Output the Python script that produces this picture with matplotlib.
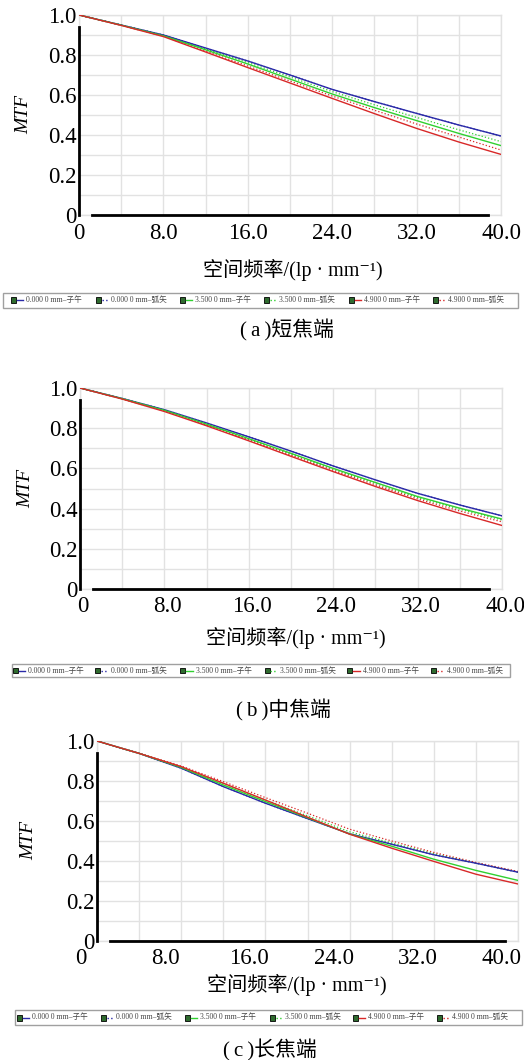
import matplotlib

matplotlib.use("Agg")
import matplotlib.pyplot as plt
from matplotlib.patches import Rectangle
from matplotlib.transforms import ScaledTranslation

W, H = 524, 1060
SERIF = ["Liberation Serif", "Noto Sans CJK SC", "DejaVu Serif"]
plt.rcParams["font.family"] = SERIF

freq = [0, 4, 8, 12, 16, 20, 24, 28, 32, 36, 40]
x_ticks = [0, 4, 8, 12, 16, 20, 24, 28, 32, 36, 40]
x_labels = ["0", "", "8.0", "", "16.0", "", "24.0", "", "32.0", "", "40.0"]
y_ticks = [0, 0.1, 0.2, 0.3, 0.4, 0.5, 0.6, 0.7, 0.8, 0.9, 1.0]
y_labels = ["0", "", "0.2", "", "0.4", "", "0.6", "", "0.8", "", "1.0"]
field_labels = ["0.000 0 mm–子午", "0.000 0 mm–弧矢", "3.500 0 mm–子午",
                "3.500 0 mm–弧矢", "4.900 0 mm–子午", "4.900 0 mm–弧矢"]
captions = ["(\u2009a\u2009)短焦端", "(\u2009b\u2009)中焦端", "(\u2009c\u2009)长焦端"]
xlabel = "空间频率/(lp · mm⁻¹)"

# (a) short focal end
short_0t = [1.0, 0.950, 0.900, 0.835, 0.770, 0.700, 0.628, 0.567, 0.508, 0.450, 0.395]
short_0s = [1.0, 0.950, 0.900, 0.835, 0.770, 0.700, 0.628, 0.567, 0.508, 0.450, 0.395]
short_35t = [1.0, 0.949, 0.896, 0.826, 0.755, 0.680, 0.605, 0.537, 0.472, 0.408, 0.347]
short_35s = [1.0, 0.950, 0.898, 0.830, 0.762, 0.690, 0.617, 0.551, 0.488, 0.426, 0.367]
short_49t = [1.0, 0.948, 0.892, 0.815, 0.737, 0.660, 0.583, 0.507, 0.433, 0.365, 0.303]
short_49s = [1.0, 0.948, 0.894, 0.820, 0.745, 0.670, 0.595, 0.524, 0.455, 0.390, 0.325]

# (b) middle focal
mid_0t = [1.0, 0.948, 0.892, 0.826, 0.757, 0.686, 0.612, 0.543, 0.476, 0.418, 0.364]
mid_0s = [1.0, 0.948, 0.892, 0.826, 0.757, 0.686, 0.612, 0.543, 0.476, 0.418, 0.364]
mid_35t = [1.0, 0.947, 0.889, 0.820, 0.748, 0.675, 0.600, 0.530, 0.460, 0.402, 0.348]
mid_35s = [1.0, 0.946, 0.887, 0.818, 0.745, 0.671, 0.596, 0.525, 0.455, 0.397, 0.343]
mid_49t = [1.0, 0.945, 0.883, 0.812, 0.737, 0.660, 0.584, 0.510, 0.440, 0.376, 0.316]
mid_49s = [1.0, 0.946, 0.885, 0.815, 0.741, 0.666, 0.590, 0.518, 0.448, 0.388, 0.334]

# (c) long focal end
long_0t = [1.0, 0.938, 0.864, 0.772, 0.689, 0.612, 0.536, 0.484, 0.431, 0.389, 0.344]
long_0s = [1.0, 0.938, 0.864, 0.772, 0.689, 0.612, 0.536, 0.484, 0.431, 0.389, 0.344]
long_35t = [1.0, 0.938, 0.868, 0.780, 0.697, 0.616, 0.535, 0.474, 0.409, 0.353, 0.303]
long_35s = [1.0, 0.938, 0.870, 0.787, 0.705, 0.626, 0.546, 0.490, 0.437, 0.390, 0.345]
long_49t = [1.0, 0.938, 0.872, 0.789, 0.705, 0.619, 0.534, 0.464, 0.398, 0.334, 0.285]
long_49s = [1.0, 0.939, 0.875, 0.797, 0.717, 0.639, 0.559, 0.500, 0.443, 0.393, 0.348]

COLORS = ["#2a2aa8", "#2a2aa8", "#30d030", "#30d030", "#d82828", "#d82828"]
STYLES = ["-", ":", "-", ":", "-", ":"]
GRID = "#e2e2e2"


def fig_rect(left, top, right, bottom):
    return [left / W, 1 - bottom / H, (right - left) / W, (bottom - top) / H]


def panel(fig, box, series, xpad, ylabel_x, label_shift=0):
    left, top, right, bottom = box
    ax = fig.add_axes(fig_rect(*box))
    # sagittal curves first so the tangential ones sit on top
    for i in (1, 3, 5, 0, 2, 4):
        ax.plot(freq, series[i], STYLES[i], color=COLORS[i],
                lw=1.0 if STYLES[i] == "-" else 0.9, zorder=3)
    ax.set_xlim(0, 40)
    ax.set_ylim(0, 1.0)
    ax.set_xticks(x_ticks)
    ax.set_xticklabels(x_labels, fontsize=16.5)
    ax.set_yticks(y_ticks)
    ax.set_yticklabels(y_labels, fontsize=16.5)
    ax.tick_params(length=0)
    ax.tick_params(axis="y", pad=1.5)
    ax.tick_params(axis="x", pad=xpad)
    ax.grid(color=GRID, lw=1.0, zorder=0)
    for s in ax.spines.values():
        s.set_color(GRID)
        s.set_linewidth(1.0)
    ax.plot([0, 0], [0, 0.94], color="black", lw=2.0, transform=ax.transAxes,
            clip_on=False, zorder=4)
    ax.plot([0.03, 0.97], [0, 0], color="black", lw=2.0, transform=ax.transAxes,
            clip_on=False, zorder=4)
    ax.set_ylabel("MTF", fontsize=14, style="italic")
    # label anchor is its right edge once rotated; the text is about 14 px thick
    ax.yaxis.set_label_coords((ylabel_x + 7 - left) / (right - left), 0.5)
    if label_shift:
        off = ScaledTranslation(label_shift / 100, 0, fig.dpi_scale_trans)
        for t in ax.get_xticklabels():
            t.set_transform(t.get_transform() + off)
    return ax


def legend_bar(fig, left, top, right, bottom, icon_x):
    lg = fig.add_axes(fig_rect(left, top, right, bottom))
    width = right - left
    lg.set_xlim(0, width)
    lg.set_ylim(0, 1)
    lg.axis("off")
    lg.add_patch(Rectangle((0, 0), width, 1, fill=False, edgecolor="#a0a0a0", lw=1.0,
                           clip_on=False))
    for i, ix in enumerate(icon_x):
        x0 = ix - left
        lg.add_patch(Rectangle((x0 - 2.5, 0.3), 5, 0.4, facecolor="#2f6b2f",
                               edgecolor="black", lw=0.6))
        lg.plot([x0 + 3.5, x0 + 10], [0.5, 0.5], STYLES[i], color=COLORS[i], lw=1.0)
        lg.text(x0 + 13, 0.5, field_labels[i], fontsize=5.5, va="center", ha="left",
                family=SERIF, color="#444444")


fig = plt.figure(figsize=(W / 100, H / 100), dpi=100)

short = [short_0t, short_0s, short_35t, short_35s, short_49t, short_49s]
mid = [mid_0t, mid_0s, mid_35t, mid_35s, mid_49t, mid_49s]
long_ = [long_0t, long_0s, long_35t, long_35s, long_49t, long_49s]

panel(fig, (79, 15, 501, 215), short, xpad=6, ylabel_x=25)
fig.text(293 / W, 1 - 270 / H, xlabel, ha="center", va="center", fontsize=14.5)
legend_bar(fig, 3, 293, 518, 308, [13, 98, 182, 266, 351, 435])
fig.text(287 / W, 1 - 330 / H, captions[0], ha="center", va="center", fontsize=15)

panel(fig, (80, 388, 502, 589), mid, xpad=5, ylabel_x=27, label_shift=3)
fig.text(296 / W, 1 - 638 / H, xlabel, ha="center", va="center", fontsize=14.5)
legend_bar(fig, 12, 664, 510, 677, [15, 98, 183, 267, 350, 434])
fig.text(284 / W, 1 - 710 / H, captions[1], ha="center", va="center", fontsize=15)

panel(fig, (97, 741, 518, 941), long_, xpad=5, ylabel_x=30, label_shift=-16)
fig.text(297 / W, 1 - 985 / H, xlabel, ha="center", va="center", fontsize=14.5)
legend_bar(fig, 15, 1010, 522, 1025, [19, 103, 187, 272, 355, 439])
fig.text(270 / W, 1 - 1050 / H, captions[2], ha="center", va="center", fontsize=15)

fig.savefig("out.png", dpi=100)
plt.close(fig)
